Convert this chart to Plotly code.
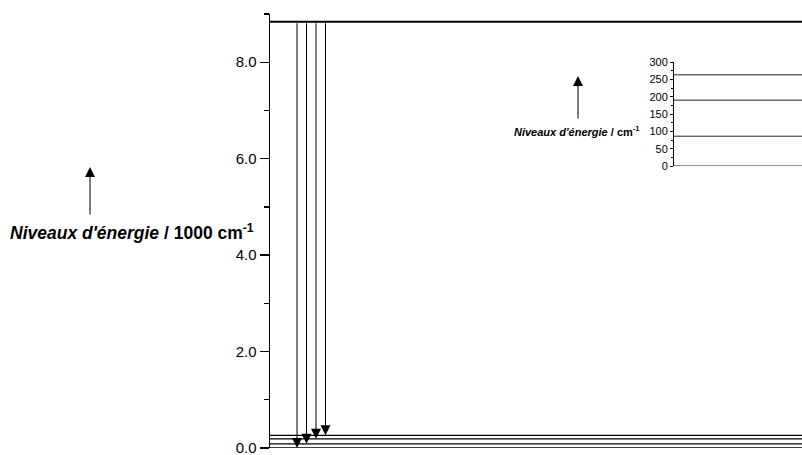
import plotly.graph_objects as go

# Energy levels (cm^-1)
ground_levels_cm = [0, 86, 190, 263]
excited_level_cm = 8840
main_ticks = [0, 2, 4, 6, 8]
main_tick_labels = ["0.0", "2.0", "4.0", "6.0", "8.0"]
inset_ticks = [0, 50, 100, 150, 200, 250, 300]
inset_tick_labels = ["0", "50", "100", "150", "200", "250", "300"]
arrow_positions = [27, 36.5, 46, 55.5]  # horizontal placement of transitions (diagram units)

W, H = 802, 455
FONT = "Liberation Sans, Arial, sans-serif"
XMAX = 532

fig = go.Figure()

# main diagram levels (in 1000 cm^-1)
fig.add_trace(go.Scatter(x=[0, XMAX], y=[excited_level_cm / 1000] * 2, mode="lines",
                         line=dict(color="black", width=2), xaxis="x", yaxis="y",
                         hoverinfo="skip", showlegend=False))
for lv in ground_levels_cm:
    fig.add_trace(go.Scatter(x=[0, XMAX], y=[lv / 1000] * 2, mode="lines",
                             line=dict(color="black", width=1.3), xaxis="x", yaxis="y",
                             hoverinfo="skip", showlegend=False))

# inset levels (cm^-1)
for lv in ground_levels_cm:
    fig.add_trace(go.Scatter(x=[0, 1], y=[lv, lv], mode="lines",
                             line=dict(color="#222", width=1), xaxis="x2", yaxis="y2",
                             hoverinfo="skip", showlegend=False))

annotations = []
# transition arrows
for xp, lv in zip(arrow_positions, ground_levels_cm):
    annotations.append(dict(x=xp, y=lv / 1000, ax=xp, ay=excited_level_cm / 1000,
                            xref="x", yref="y", axref="x", ayref="y",
                            showarrow=True, arrowhead=2, arrowsize=2, arrowwidth=1,
                            arrowcolor="black", text="", standoff=0))

# axis titles with arrows
annotations.append(dict(x=90 / W, y=1 - 167 / H, xref="paper", yref="paper",
                        ax=0, ay=49, showarrow=True, arrowhead=2, arrowsize=2,
                        arrowwidth=1, arrowcolor="black", text=""))
annotations.append(dict(x=132 / W, y=1 - 232 / H, xref="paper", yref="paper",
                        text="<b><i>Niveaux d'énergie</i> / 1000 cm<sup>-1</sup></b>",
                        showarrow=False, font=dict(family=FONT, size=17.5, color="black"),
                        xanchor="center", yanchor="middle"))
annotations.append(dict(x=578 / W, y=1 - 76 / H, xref="paper", yref="paper",
                        ax=0, ay=44, showarrow=True, arrowhead=2, arrowsize=2,
                        arrowwidth=1, arrowcolor="black", text=""))
annotations.append(dict(x=642 / W, y=1 - 131 / H, xref="paper", yref="paper",
                        text="<b><i>Niveaux d'énergie</i> / cm<sup>-1</sup></b>",
                        showarrow=False, font=dict(family=FONT, size=11, color="black"),
                        xanchor="right", yanchor="middle"))

fig.update_layout(
    template="none",
    width=W, height=H, autosize=False,
    margin=dict(l=0, r=0, t=0, b=0, autoexpand=False),
    paper_bgcolor="white", plot_bgcolor="rgba(0,0,0,0)",
    font=dict(family=FONT, color="black"),
    showlegend=False,
    xaxis=dict(domain=[270 / W, 1], range=[0, XMAX], visible=False, fixedrange=True,
               automargin=False),
    yaxis=dict(domain=[(H - 448) / H, (H - 14) / H], range=[0, 9], anchor="x",
               automargin=False, fixedrange=True, ticklabeloverflow="allow",
               showline=True, linecolor="black", linewidth=1.5, showgrid=False,
               zeroline=False, ticks="outside", ticklen=9, tickwidth=1.3,
               tickcolor="black", tickvals=main_ticks, ticktext=main_tick_labels,
               tickfont=dict(family=FONT, size=15, color="black"),
               minor=dict(dtick=1, tick0=1, ticks="outside", ticklen=5,
                          tickwidth=1.3, tickcolor="black", showgrid=False)),
    xaxis2=dict(domain=[674 / W, 1], range=[0, 1], visible=False, fixedrange=True,
                automargin=False),
    yaxis2=dict(domain=[(H - 166) / H, (H - 62) / H], range=[0, 300], anchor="x2",
                automargin=False, fixedrange=True, ticklabeloverflow="allow",
                showline=True, linecolor="black", linewidth=1, showgrid=False,
                zeroline=False, ticks="outside", ticklen=3, tickwidth=1,
                tickcolor="black", tickvals=inset_ticks, ticktext=inset_tick_labels,
                tickfont=dict(family=FONT, size=11, color="black"),
                minor=dict(dtick=25, tick0=25, ticks="outside", ticklen=2,
                           tickwidth=1, tickcolor="black", showgrid=False)),
    annotations=annotations,
)

fig.write_html(
    "out.html",
    config={"displayModeBar": False, "staticPlot": True},
    post_script="document.body.style.margin='0';document.documentElement.style.overflow='hidden';",
)
